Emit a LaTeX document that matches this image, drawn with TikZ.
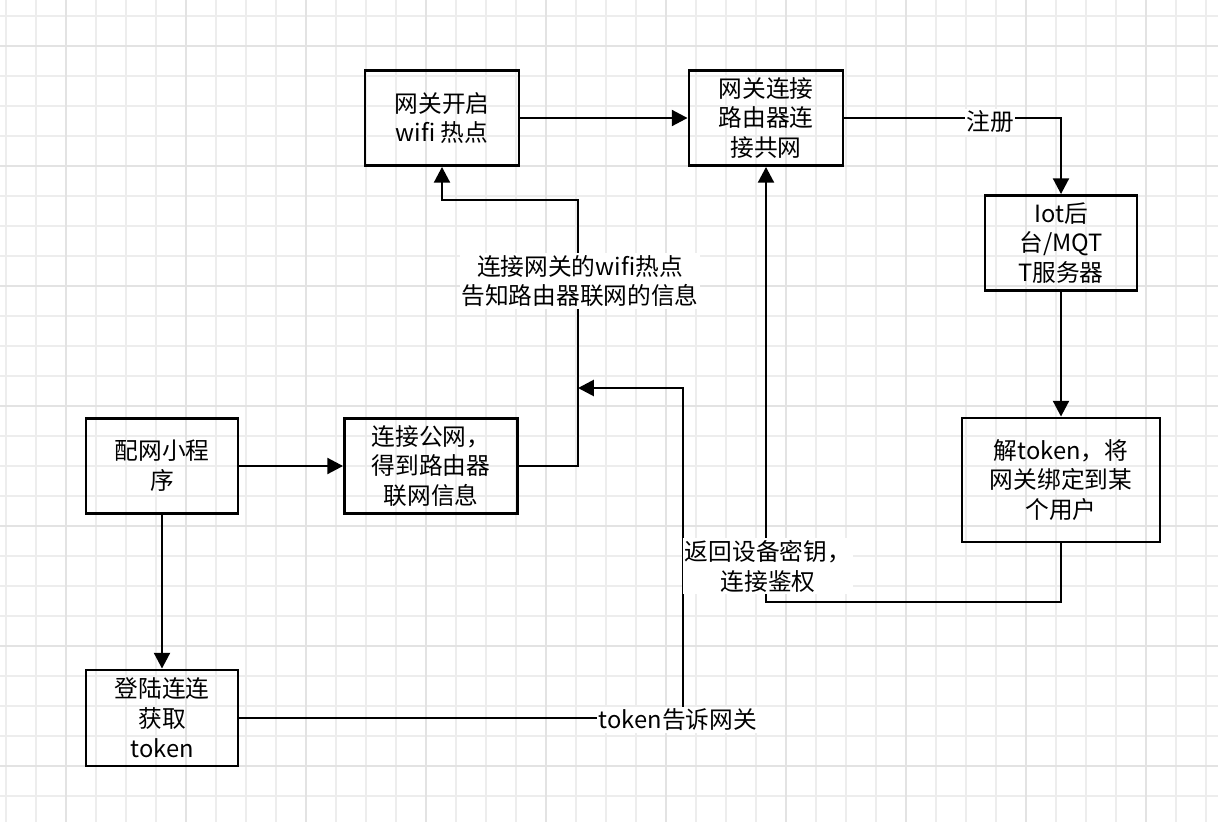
\documentclass[tikz,border=0pt]{standalone}
\usepackage{fontspec}
\setmainfont{Noto Sans CJK SC}
\usetikzlibrary{arrows.meta}
\begin{document}
\begin{tikzpicture}[x=0.02cm,y=-0.02cm,
  box/.style={draw,line width=1.6pt,minimum width=#1*0.02cm,align=center,inner sep=0pt,font=\fontsize{13.5}{17}\selectfont},
  box/.default=154,
  ln/.style={line width=1.6pt},
  ar/.style={line width=1.6pt,-{Triangle[length=9pt,width=9pt]}},
  lab/.style={fill=white,inner sep=1pt,align=center,font=\fontsize{13.5}{17}\selectfont}]
\useasboundingbox (0,0) rectangle (1218,822);
\fill[white] (0,0) rectangle (1218,822);
\foreach \x in {6,36,...,1218} \draw[black!7,line width=0.6pt] (\x,0) -- (\x,822);
\foreach \y in {16,46,...,822} \draw[black!7,line width=0.6pt] (0,\y) -- (1218,\y);
\foreach \x in {66,186,...,1218} \draw[black!11,line width=0.8pt] (\x,0) -- (\x,822);
\foreach \y in {46,166,...,822} \draw[black!11,line width=0.8pt] (0,\y) -- (1218,\y);

\node[box,minimum height=95*0.02cm] (A) at (442,118) {网关开启\\wifi 热点};
\node[box,minimum height=95*0.02cm] (B) at (766,118) {网关连接\\路由器连\\接共网};
\node[box=152,minimum height=95*0.02cm] (C) at (1061,243) {Iot后\\台/MQT\\T服务器};
\node[box=198,minimum height=124*0.02cm] (D) at (1061,480) {解token，将\\网关绑定到某\\个用户};
\node[box=152,minimum height=95*0.02cm] (E) at (162,466) {配网小程\\序};
\node[box=173,minimum height=95*0.02cm] (F) at (431,466) {连接公网，\\得到路由器\\联网信息};
\node[box=152,minimum height=96*0.02cm] (G) at (162,718) {登陆连连\\获取\\token};

\coordinate (j1) at (578,388);
\draw[ar] (A) -- (B);
\draw[ar] (B.east) -| (C.north);
\node[lab] at (990,122) {注册};
\draw[ar] (C) -- (D);
\draw[ar] (E) -- (F);
\draw[ar] (E) -- (G);
\draw[ar] (F.east) -- (578,466) -- (578,200) -- (442,200) -- (A.south);
\node[lab] at (580,281) {连接网关的wifi热点\\告知路由器联网的信息};
\draw[ar] (G.east) -- (683,718) -- (683,388) -- (j1);
\node[lab] at (678,720) {token告诉网关};
\draw[ar] (D.south) -- (1061,602) -- (766,602) -- (B.south);
\node[lab] at (768,566) {返回设备密钥，\\连接鉴权};
\end{tikzpicture}
\end{document}
